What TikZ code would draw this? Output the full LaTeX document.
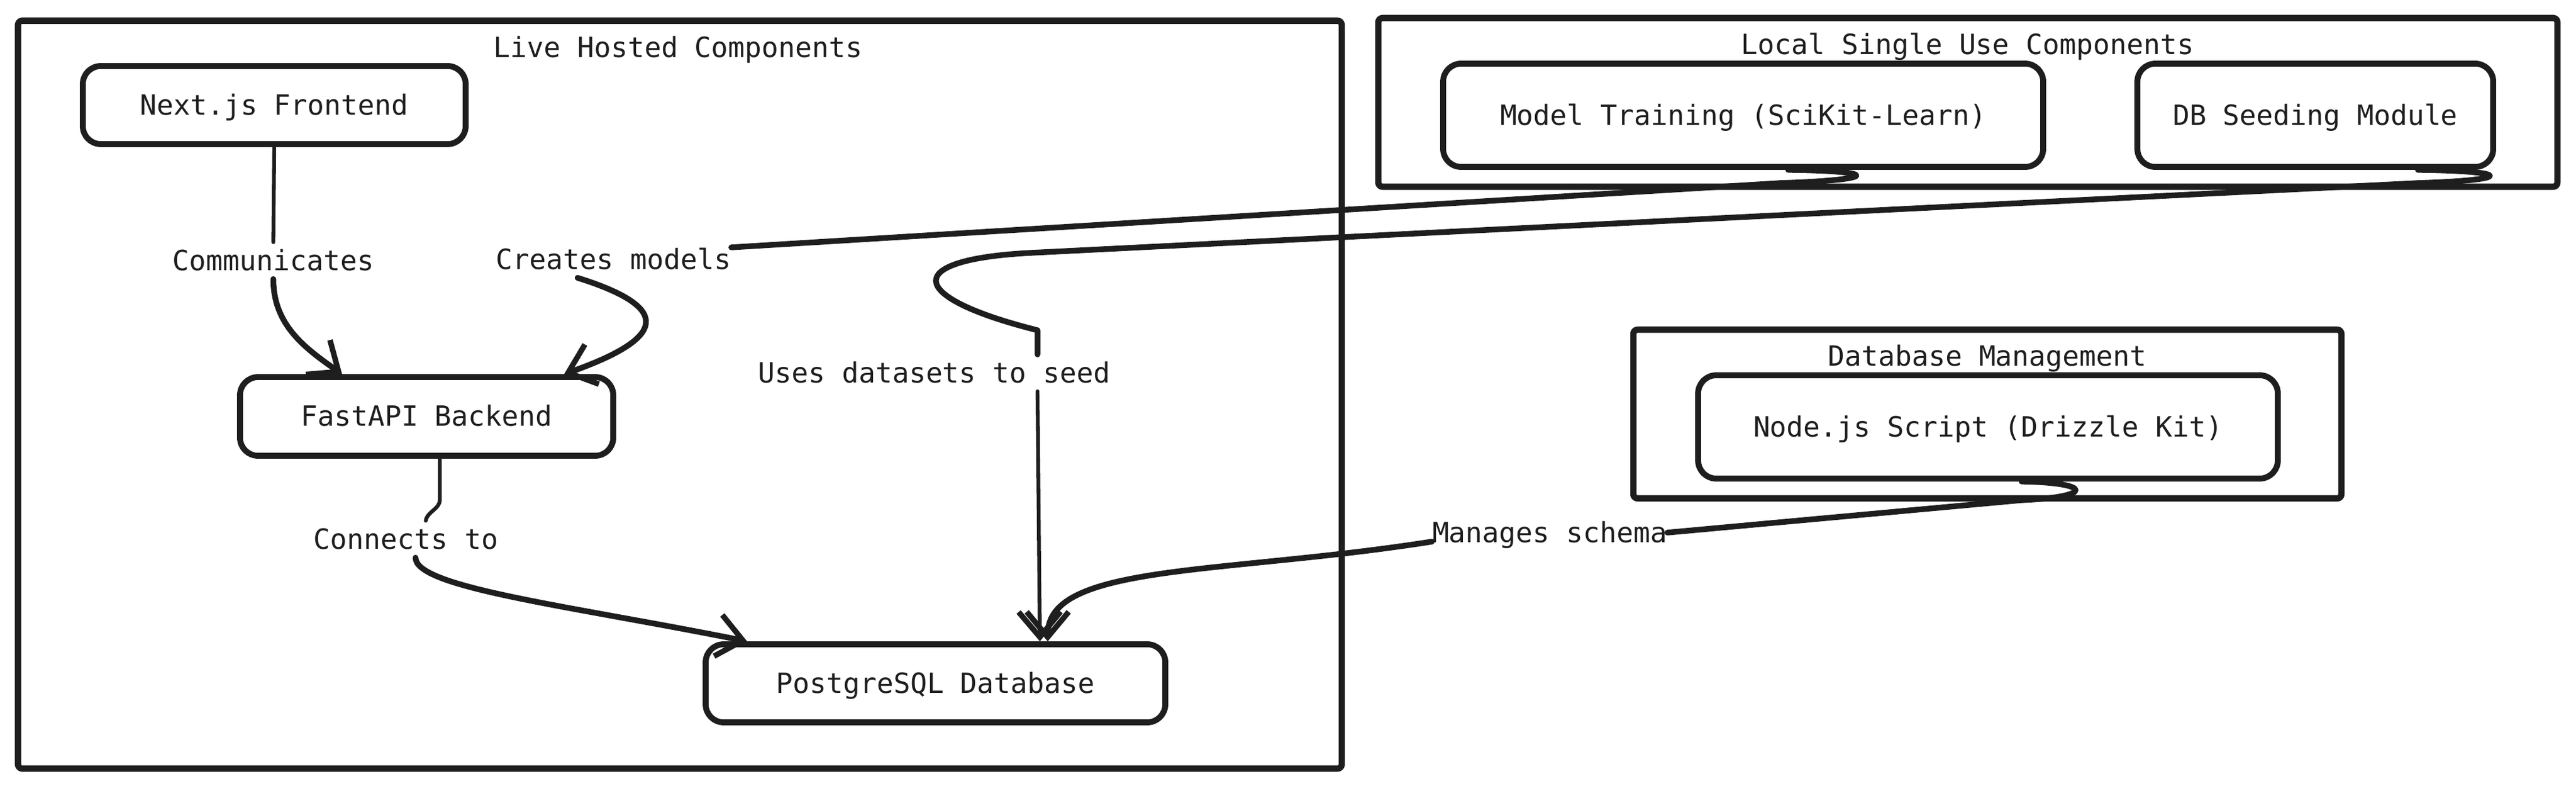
\documentclass[tikz,border=0pt]{standalone}
\usepackage{fontspec}
\newfontfamily\diagfont{DejaVu Sans Mono}
\usetikzlibrary{arrows.meta}
\definecolor{ink}{HTML}{1E1E1E}
\begin{document}
\begin{tikzpicture}[line cap=round, line join=round,
  every node/.style={font=\diagfont\fontsize{13.2}{16}\selectfont, text=ink},
  cluster/.style={draw=ink, line width=3pt, rounded corners=2pt},
  grouptitle/.style={anchor=base, inner sep=0pt},
  box/.style={draw=ink, fill=white, line width=2.8pt, rounded corners=0.3cm, inner sep=0pt, text height=0.33cm, text depth=0pt},
  lbl/.style={anchor=base, inner sep=0pt, text height=0.47cm, text depth=0.13cm},
  slim/.style={draw=ink, line width=1.8pt},
  heavy/.style={draw=ink, line width=2.7pt},
  arr/.style={-{Straight Barb[length=0.42cm, width=0.7cm, line width=2.6pt]}}]
\useasboundingbox (0,0) rectangle (42.93,-13.09);

\draw [cluster] (0.30,-0.345) rectangle (22.36,-12.80);
\draw [cluster] (22.97,-0.30) rectangle (42.62,-3.11);
\draw [cluster] (27.22,-5.49) rectangle (39.02,-8.30);
\node [grouptitle] (livetitle) at (11.30,-0.96) {Live Hosted Components};
\node [grouptitle] (localtitle) at (32.79,-0.91) {Local Single Use Components};
\node [grouptitle] (dbmtitle) at (33.12,-6.10) {Database Management};

\node [box, minimum width=6.38cm, minimum height=1.30cm] (next) at (4.57,-1.75) {Next.js Frontend};
\node [box, minimum width=6.22cm, minimum height=1.31cm] (fastapi) at (7.11,-6.935) {FastAPI Backend};
\node [box, minimum width=7.66cm, minimum height=1.30cm] (postgres) at (15.59,-11.38) {PostgreSQL Database};
\node [box, minimum width=10.0cm, minimum height=1.72cm] (model) at (29.05,-1.92) {Model Training (SciKit-Learn)};
\node [box, minimum width=5.93cm, minimum height=1.72cm] (seed) at (38.585,-1.92) {DB Seeding Module};
\node [box, minimum width=9.66cm, minimum height=1.72cm] (nodejs) at (33.13,-7.11) {Node.js Script (Drizzle Kit)};

\node [lbl] (comm) at (4.555,-4.51) {Communicates};
\node [lbl] (creates) at (10.225,-4.49) {Creates models};
\node [lbl] (uses) at (15.57,-6.38) {Uses datasets to seed};
\node [lbl] (connects) at (6.765,-9.15) {Connects to};
\node [lbl] (manages) at (25.825,-9.04) {Manages schema};

\draw [slim] (next.south) -- (comm.north);
\draw [heavy, arr] (comm.south) to[out=-90, in=145] ([xshift=1.75cm]fastapi.north west);
\draw [heavy] ([xshift=0.75cm]model.south) .. controls +(1.6,-0.02) and +(1.6,0.05) .. ++(-0.13,-0.22) -- ([yshift=0.2cm]creates.east);
\draw [heavy, arr] ([xshift=-0.6cm]creates.south) .. controls +(1.6,-0.5) and +(1.7,0.6) .. ([xshift=5.45cm]fastapi.north west);
\draw [heavy] ([xshift=1.71cm]seed.south) .. controls +(1.6,-0.02) and +(1.6,0.05) .. ++(0,-0.22) -- (17.2,-4.21) .. controls (15.0,-4.32) and (15.1,-4.95) .. (17.29,-5.5) -- ([xshift=1.72cm]uses.north);
\draw [slim, arr] ([xshift=1.72cm]uses.south) -- ([xshift=1.74cm]postgres.north);
\draw [slim] ([xshift=0.22cm]fastapi.south) -- ++(0,-0.68) to[out=-90, in=80] ([xshift=0.33cm]connects.north);
\draw [heavy, arr] ([xshift=0.16cm]connects.south) .. controls +(0,-0.5) and +(-3.0,0.6) .. ([xshift=0.74cm]postgres.north west);
\draw [heavy] ([xshift=0.56cm]nodejs.south) .. controls +(1.2,-0.02) and +(1.2,0.05) .. ++(0,-0.31) -- (manages.east);
\draw [heavy, arr] ([yshift=-0.15cm]manages.west) .. controls +(-3.5,-0.55) and +(0,1.3) .. ([xshift=1.87cm]postgres.north);
\end{tikzpicture}
\end{document}
